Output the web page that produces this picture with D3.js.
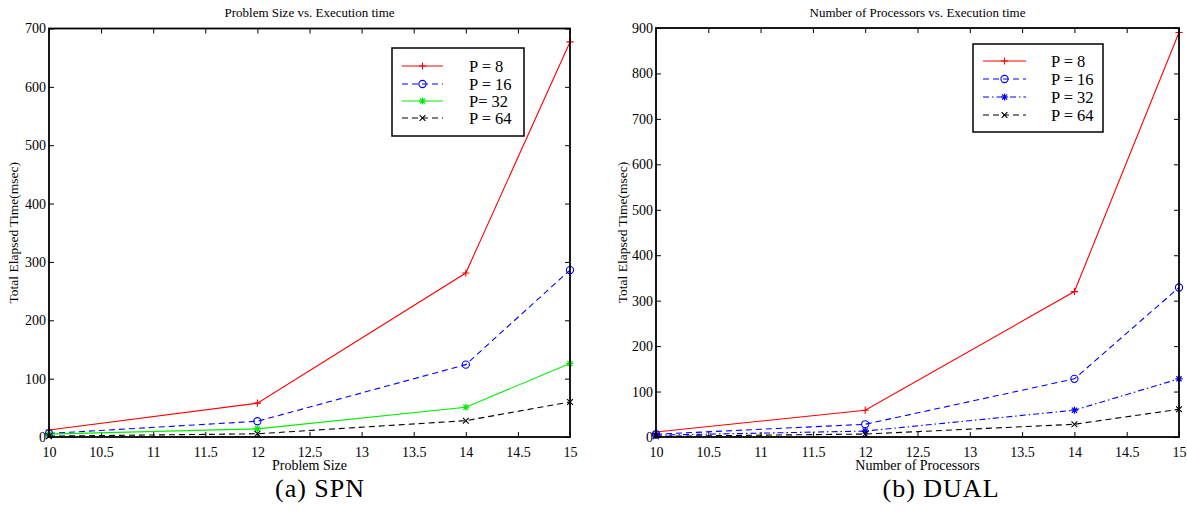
<!DOCTYPE html>
<html>
<head>
<meta charset="utf-8">
<script src="https://cdn.jsdelivr.net/npm/d3@7"></script>
<style>
  html, body { margin: 0; padding: 0; background: #fff; }
  svg { display: block; }
</style>
</head>
<body>
<svg id="chart" width="1187" height="516"></svg>
<script>
// Problem sizes on the x axis (shared by both panels)
const sizes = [10, 12, 14, 15];
const xTicks = [10, 10.5, 11, 11.5, 12, 12.5, 13, 13.5, 14, 14.5, 15];
const seriesNames = ["P = 8", "P = 16", "P= 32", "P = 64"];
const seriesNamesDual = ["P = 8", "P = 16", "P = 32", "P = 64"];

// SPN: total elapsed time (msec)
const spnP8  = [12, 58, 281, 677];
const spnP16 = [6, 27, 124, 286];
const spnP32 = [5, 14, 51, 126];
const spnP64 = [1.5, 5.5, 28, 60];
const spnYTicks = [0, 100, 200, 300, 400, 500, 600, 700];

// DUAL: total elapsed time (msec)
const dualP8  = [11, 59, 320, 890];
const dualP16 = [6, 28, 128, 329];
const dualP32 = [4, 13, 59, 128];
const dualP64 = [1.5, 6.5, 28, 61];
const dualYTicks = [0, 100, 200, 300, 400, 500, 600, 700, 800, 900];

const SERIF = "Liberation Serif";
const svg = d3.select("#chart");

// draw a marker glyph centred at (0,0)
function marker(g, kind, color) {
  const s = 3.6;
  if (kind === "+") {
    g.append("path").attr("d", `M${-s},0H${s}M0,${-s}V${s}`)
      .attr("stroke", color).attr("stroke-width", 1.1).attr("fill", "none");
  } else if (kind === "o") {
    g.append("circle").attr("r", s).attr("stroke", color)
      .attr("stroke-width", 1.1).attr("fill", "none");
  } else if (kind === "*") {
    const d = s * 0.72;
    g.append("path").attr("d", `M${-s},0H${s}M0,${-s}V${s}M${-d},${-d}L${d},${d}M${-d},${d}L${d},${-d}`)
      .attr("stroke", color).attr("stroke-width", 1.2).attr("fill", "none");
  } else if (kind === "x") {
    const d = s * 0.8;
    g.append("path").attr("d", `M${-d},${-d}L${d},${d}M${-d},${d}L${d},${-d}`)
      .attr("stroke", color).attr("stroke-width", 1.1).attr("fill", "none");
  }
}

function panel(cfg) {
  const { left, right, top, bottom } = cfg.box;
  const x = d3.scaleLinear().domain([10, 15]).range([left, right]);
  const y = d3.scaleLinear().domain([0, cfg.yMax]).range([bottom, top]);
  const g = svg.append("g");

  // inward ticks on all four sides
  const tickLen = 5;
  g.append("g").attr("transform", `translate(0,${bottom})`)
    .call(d3.axisBottom(x).tickValues(xTicks).tickSizeInner(-tickLen).tickSizeOuter(0)
      .tickPadding(9).tickFormat(d3.format("")))
    .call(a => a.select(".domain").remove())
    .call(a => a.attr("font-family", SERIF).attr("font-size", 14))
    .call(a => a.selectAll("text").attr("font-family", SERIF).attr("font-size", 14).attr("fill", "#000").attr("dy", "0.75em"));
  g.append("g").attr("transform", `translate(0,${top})`)
    .call(d3.axisTop(x).tickValues(xTicks).tickSizeInner(-tickLen).tickSizeOuter(0).tickFormat(""))
    .call(a => a.select(".domain").remove());
  g.append("g").attr("transform", `translate(${left},0)`)
    .call(d3.axisLeft(y).tickValues(cfg.yTicks).tickSizeInner(-tickLen).tickSizeOuter(0)
      .tickPadding(3).tickFormat(d3.format("")))
    .call(a => a.select(".domain").remove())
    .call(a => a.attr("font-family", SERIF).attr("font-size", 14))
    .call(a => a.selectAll("text").attr("font-family", SERIF).attr("font-size", 14).attr("fill", "#000"));
  g.append("g").attr("transform", `translate(${right},0)`)
    .call(d3.axisRight(y).tickValues(cfg.yTicks).tickSizeInner(-tickLen).tickSizeOuter(0).tickFormat(""))
    .call(a => a.select(".domain").remove());
  g.selectAll(".tick line").attr("stroke", "#000").attr("stroke-width", 1);

  // series lines and markers
  const line = d3.line().x((d, i) => x(sizes[i])).y(d => y(d));
  cfg.series.forEach(s => {
    g.append("path").datum(s.values).attr("d", line)
      .attr("fill", "none").attr("stroke", s.color).attr("stroke-width", 1.1)
      .attr("stroke-dasharray", s.dash || null);
    s.values.forEach((v, i) => {
      marker(g.append("g").attr("transform", `translate(${x(sizes[i])},${y(v)})`), s.marker, s.color);
    });
  });

  // axes frame
  g.append("rect").attr("x", left).attr("y", top).attr("width", right - left).attr("height", bottom - top)
    .attr("fill", "none").attr("stroke", "#000").attr("stroke-width", 1.8);

  // titles
  const cx = (left + right) / 2;
  const txt = (sel) => sel.attr("font-family", SERIF).attr("fill", "#000");
  g.append("text").call(txt).attr("x", cx).attr("y", 17).attr("text-anchor", "middle")
    .attr("font-size", 13).text(cfg.title);
  g.append("text").call(txt).attr("x", cx).attr("y", 470).attr("text-anchor", "middle")
    .attr("font-size", 14).text(cfg.xLabel);
  g.append("text").call(txt).attr("transform", `translate(${cfg.yLabelX},${(top + bottom) / 2}) rotate(-90)`)
    .attr("text-anchor", "middle").attr("font-size", 13.5).text("Total Elapsed Time(msec)");
  g.append("text").call(txt).attr("x", cfg.captionX).attr("y", 497).attr("text-anchor", "middle")
    .attr("font-size", 26).attr("letter-spacing", 1).text(cfg.caption);

  // legend
  const L = cfg.legend;
  g.append("rect").attr("x", L.x0).attr("y", L.y0).attr("width", L.x1 - L.x0).attr("height", L.y1 - L.y0)
    .attr("fill", "#fff").attr("stroke", "#000").attr("stroke-width", 1.5);
  cfg.series.forEach((s, i) => {
    const ry = L.rows[i];
    g.append("line").attr("x1", L.lx0).attr("x2", L.lx1).attr("y1", ry).attr("y2", ry)
      .attr("stroke", s.color).attr("stroke-width", 1.1).attr("stroke-dasharray", s.dash || null);
    marker(g.append("g").attr("transform", `translate(${(L.lx0 + L.lx1) / 2},${ry})`), s.marker, s.color);
    g.append("text").call(txt).attr("x", L.tx).attr("y", ry).attr("dy", "0.34em")
      .attr("font-size", 16.5).text(cfg.names[i]);
  });
}

panel({
  box: { left: 49, right: 570, top: 28.5, bottom: 437 },
  yMax: 700, yTicks: spnYTicks,
  title: "Problem Size  vs. Execution time",
  xLabel: "Problem Size",
  yLabelX: 18,
  caption: "(a) SPN", captionX: 320,
  names: seriesNames,
  series: [
    { values: spnP8,  color: "#ff0000", marker: "+" },
    { values: spnP16, color: "#0000ff", marker: "o", dash: "6,4" },
    { values: spnP32, color: "#00ee00", marker: "*" },
    { values: spnP64, color: "#000000", marker: "x", dash: "6,4" }
  ],
  legend: { x0: 392, x1: 524, y0: 48, y1: 136, rows: [66, 84, 101, 118], lx0: 402, lx1: 443, tx: 469 }
});

panel({
  box: { left: 656, right: 1179, top: 28, bottom: 437 },
  yMax: 900, yTicks: dualYTicks,
  title: "Number of Processors vs. Execution time",
  xLabel: "Number of Processors",
  yLabelX: 627,
  caption: "(b) DUAL", captionX: 941,
  names: seriesNamesDual,
  series: [
    { values: dualP8,  color: "#ff0000", marker: "+" },
    { values: dualP16, color: "#0000ff", marker: "o", dash: "6,4" },
    { values: dualP32, color: "#0000ff", marker: "*", dash: "6,3,1.5,3" },
    { values: dualP64, color: "#000000", marker: "x", dash: "6,4" }
  ],
  legend: { x0: 973, x1: 1103, y0: 44, y1: 132, rows: [61, 79, 97, 115], lx0: 983, lx1: 1026, tx: 1051 }
});
</script>
</body>
</html>
